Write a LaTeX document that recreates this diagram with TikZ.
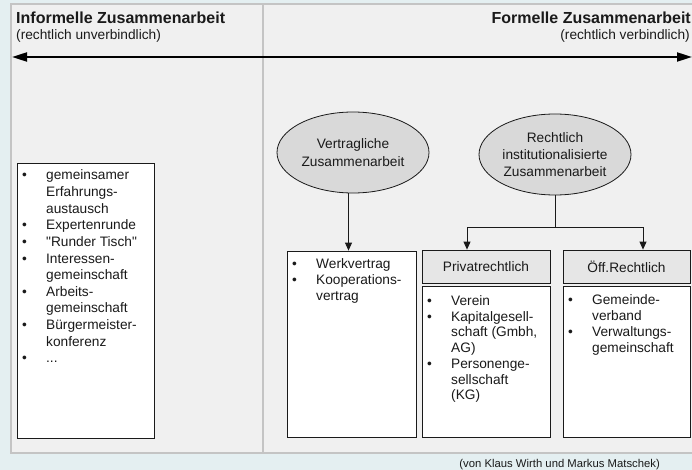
\documentclass[tikz,border=0pt]{standalone}
\usepackage{fontspec}
\setmainfont{Liberation Sans}
\newfontfamily\plainsans{Liberation Sans}
\usetikzlibrary{shapes.geometric,arrows.meta,calc}
\definecolor{bgc}{HTML}{E4EFF1}
\definecolor{panel}{HTML}{F0F0F0}
\definecolor{panelline}{HTML}{C4C4C4}
\definecolor{ellfill}{HTML}{D9D9D9}
\definecolor{hdrfill}{HTML}{E6E6E6}
\definecolor{ink}{HTML}{1A1A1A}
\newcommand\blist[2]{\begin{tabular}[t]{@{}p{#1}@{}l@{}}#2\end{tabular}}
\begin{document}
\begin{tikzpicture}[x=1pt,y=-1pt,
  every node/.style={text=ink},
  boxstyle/.style={draw=ink, line width=0.8pt, fill=white, inner sep=0pt},
  hdr/.style={draw=ink, line width=0.8pt, fill=hdrfill, inner sep=0pt, font=\fontsize{13.7}{16}\selectfont},
  ell/.style={ellipse, draw=ink, line width=0.8pt, fill=ellfill, minimum width=152pt, minimum height=81pt, inner sep=0pt, align=center},
  lst/.style={anchor=base west, inner sep=0pt},
  arr/.style={-{Triangle[length=8pt,width=7pt]}, line width=0.8pt, draw=ink},
  conn/.style={line width=0.8pt, draw=ink}]
\plainsans
\useasboundingbox (0,0) rectangle (692,470);
\fill[bgc] (0,0) rectangle (692,470);
% panel
\draw[fill=panel, draw=panelline, line width=1.5pt] (11,4) rectangle (705,453);
\draw[draw=panelline, line width=2pt] (263,4) -- (263,453);
% titles
\node[anchor=base west, inner sep=0pt, font=\fontsize{16}{18}\selectfont\bfseries] (tl) at (16,23.3) {Informelle Zusammenarbeit};
\node[anchor=base west, inner sep=0pt, font=\fontsize{13.7}{16}\selectfont] (stl) at (16,39.5) {(rechtlich unverbindlich)};
\node[anchor=base east, inner sep=0pt, font=\fontsize{16}{18}\selectfont\bfseries] (tr) at (691,23.3) {Formelle Zusammenarbeit};
\node[anchor=base east, inner sep=0pt, font=\fontsize{13.7}{16}\selectfont] (str) at (690,39.5) {(rechtlich verbindlich)};
% big arrow
\coordinate (al) at (12,57);
\coordinate (ar) at (692,57);
\draw[{Triangle[length=15pt,width=9pt]}-{Triangle[length=15pt,width=9pt]}, line width=2pt, black] (al) -- (ar);
% left box
\node[boxstyle, minimum width=137pt, minimum height=275pt] (lb) at (85.5,300.5) {};
\node[lst, font=\fontsize{13.7}{16.6}\selectfont] (lbt) at (22,180) {\blist{24pt}{%
\textbullet & gemeinsamer\\ & Erfahrungs-\\ & austausch\\
\textbullet & Expertenrunde\\
\textbullet & "Runder Tisch"\\
\textbullet & Interessen-\\ & gemeinschaft\\
\textbullet & Arbeits-\\ & gemeinschaft\\
\textbullet & Bürgermeister-\\ & konferenz\\
\textbullet & ...}};
% ellipses
\node[ell, font=\fontsize{13.7}{18.3}\selectfont] (e1) at (353,152.5) {Vertragliche\\Zusammenarbeit};
\node[ell, font=\fontsize{13.7}{16.7}\selectfont] (e2) at (555,154.5) {Rechtlich\\institutionalisierte\\Zusammenarbeit};
% Werkvertrag box
\node[boxstyle, minimum width=129pt, minimum height=186pt] (wb) at (351.5,344) {};
\node[lst, font=\fontsize{13.7}{16}\selectfont] (wbt) at (292,268.5) {\blist{24pt}{%
\textbullet & Werkvertrag\\
\textbullet & Kooperations-\\ & vertrag}};
% Privatrechtlich
\node[hdr, minimum width=128pt, minimum height=33pt] (ph) at (486,266.5) {Privatrechtlich};
\node[boxstyle, minimum width=128pt, minimum height=151pt] (pb) at (486,361.5) {};
\node[lst, font=\fontsize{13.7}{15.7}\selectfont] (pbt) at (427,305.5) {\blist{24pt}{%
\textbullet & Verein\\
\textbullet & Kapitalgesell-\\ & schaft (Gmbh,\\ & AG)\\
\textbullet & Personenge-\\ & sellschaft\\ & (KG)}};
% Oeff. Rechtlich
\node[hdr, minimum width=127pt, minimum height=33pt] (oh) at (626.5,266.5) {Öff.Rechtlich};
\node[boxstyle, minimum width=127pt, minimum height=151pt] (ob) at (626.5,361.5) {};
\node[lst, font=\fontsize{13.7}{16}\selectfont] (obt) at (568,304.5) {\blist{24pt}{%
\textbullet & Gemeinde-\\ & verband\\
\textbullet & Verwaltungs-\\ & gemeinschaft}};
% connectors
\draw[arr] ([xshift=-4.5pt]e1.south) -- ([xshift=-4.5pt]e1.south |- wb.north);
\coordinate (j) at (555,227);
\coordinate (jl) at (467,227);
\coordinate (jr) at (643,227);
\draw[conn] (e2.south) -- (j);
\draw[conn] (jl) -- (jr);
\draw[arr] (jl) -- (jl |- ph.north);
\draw[arr] (jr) -- (jr |- oh.north);
% footer
\node[anchor=base east, inner sep=0pt, font=\fontsize{11.3}{13}\selectfont] (ft) at (660,467) {(von Klaus Wirth und Markus Matschek)};
\end{tikzpicture}
\end{document}
